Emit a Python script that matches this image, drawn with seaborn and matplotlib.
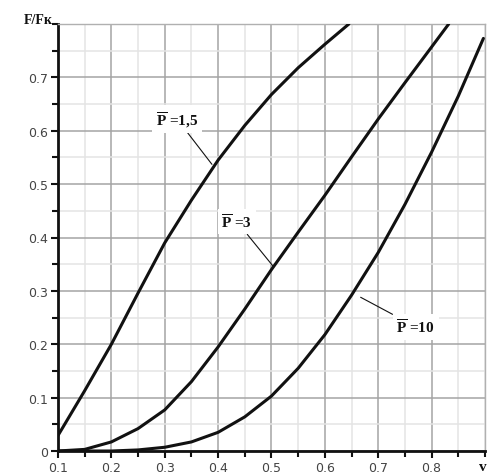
import matplotlib
matplotlib.use("Agg")
import matplotlib.pyplot as plt
import seaborn as sns
import pandas as pd
from matplotlib.ticker import MultipleLocator

# Data
p15_x = [0.1, 0.15, 0.2, 0.25, 0.3, 0.35, 0.4, 0.45, 0.5, 0.55, 0.6, 0.645]
p15_y = [0.029, 0.113, 0.20, 0.296, 0.39, 0.47, 0.545, 0.61, 0.668, 0.718, 0.762, 0.80]

p3_x = [0.1, 0.15, 0.2, 0.25, 0.3, 0.35, 0.4, 0.45, 0.5, 0.55, 0.6, 0.65, 0.7, 0.75, 0.8, 0.832]
p3_y = [0.0, 0.003, 0.017, 0.042, 0.077, 0.130, 0.195, 0.266, 0.340, 0.410, 0.479, 0.551, 0.622, 0.690, 0.757, 0.80]

p10_x = [0.1, 0.2, 0.25, 0.3, 0.35, 0.4, 0.45, 0.5, 0.55, 0.6, 0.65, 0.7, 0.75, 0.8, 0.85, 0.897]
p10_y = [0.0, 0.0, 0.002, 0.007, 0.017, 0.035, 0.064, 0.103, 0.155, 0.218, 0.292, 0.372, 0.462, 0.560, 0.665, 0.773]

x_ticks = [0.1, 0.2, 0.3, 0.4, 0.5, 0.6, 0.7, 0.8]
x_tick_labels = ["0.1", "0.2", "0.3", "0.4", "0.5", "0.6", "0.7", "0.8"]
y_ticks = [0, 0.1, 0.2, 0.3, 0.4, 0.5, 0.6, 0.7]
y_tick_labels = ["0", "0.1", "0.2", "0.3", "0.4", "0.5", "0.6", "0.7"]

sns.set_theme(style="white")
plt.rcParams['font.family'] = ['DejaVu Sans']
plt.rcParams['mathtext.fontset'] = 'custom'
plt.rcParams['mathtext.bf'] = 'Liberation Serif:bold'
plt.rcParams['mathtext.rm'] = 'Liberation Serif'

fig = plt.figure(figsize=(4.89, 4.77), dpi=100)
ax = fig.add_axes([58/489, 25/477, (485-58)/489, (452-25)/477])

for xs, ys in [(p15_x, p15_y), (p3_x, p3_y), (p10_x, p10_y)]:
    df = pd.DataFrame({"v": xs, "F": ys})
    sns.lineplot(data=df, x="v", y="F", ax=ax, color="#111111", linewidth=2.2,
                 estimator=None, sort=False, zorder=5)

ax.set_xlim(0.1, 0.9)
ax.set_ylim(0, 0.8)
ax.set_xticks(x_ticks)
ax.set_xticklabels(x_tick_labels)
ax.set_yticks(y_ticks)
ax.set_yticklabels(y_tick_labels)
ax.xaxis.set_minor_locator(MultipleLocator(0.05))
ax.yaxis.set_minor_locator(MultipleLocator(0.05))
ax.grid(which="major", color="#a4a4a4", linewidth=1.1, zorder=0)
ax.grid(which="minor", color="#e4e4e4", linewidth=1.1, zorder=0)
ax.set_axisbelow(True)

for s in ["top", "right"]:
    ax.spines[s].set_color("#b0b0b0")
    ax.spines[s].set_linewidth(1.0)
for s in ["left", "bottom"]:
    ax.spines[s].set_color("#111111")
    ax.spines[s].set_linewidth(2.0)

ax.tick_params(which="major", direction="out", length=5, width=1.5, color="#111111",
               labelsize=9, labelcolor="#444444", left=True, bottom=True, pad=2)
ax.tick_params(which="minor", direction="out", length=4, width=1.5, color="#111111",
               left=True, bottom=True)
ax.set_xlabel("")
ax.set_ylabel("")

fig.text(38/489, 1 - 20/477, "F/Fк", fontsize=10, fontweight="bold",
         family="Liberation Serif", ha="center", va="center", color="#111111")
fig.text(483/489, 1 - 468/477, "v", fontsize=11, fontweight="bold",
         family="Liberation Serif", ha="center", va="center", color="#111111")

lab_kw = dict(fontsize=11, color="#111111", family="Liberation Serif",
              fontweight="bold", zorder=6,
              bbox=dict(boxstyle="square,pad=0.25", fc="white", ec="none"))
ax.annotate(r"$\overline{\mathbf{P}}$ =1,5", xy=(0.39, 0.535), xytext=(0.323, 0.622),
            ha="center", va="center",
            arrowprops=dict(arrowstyle="-", color="#111111", lw=0.8,
                            shrinkA=0, shrinkB=1), **lab_kw)
ax.annotate(r"$\overline{\mathbf{P}}$ =3", xy=(0.504, 0.345), xytext=(0.435, 0.43),
            ha="center", va="center",
            arrowprops=dict(arrowstyle="-", color="#111111", lw=0.8,
                            shrinkA=0, shrinkB=1), **lab_kw)
ax.annotate(r"$\overline{\mathbf{P}}$ =10", xy=(0.667, 0.288), xytext=(0.77, 0.233),
            ha="center", va="center",
            arrowprops=dict(arrowstyle="-", color="#111111", lw=0.8,
                            shrinkA=0, shrinkB=0), **lab_kw)

fig.savefig("out.png", dpi=100, facecolor="white")
